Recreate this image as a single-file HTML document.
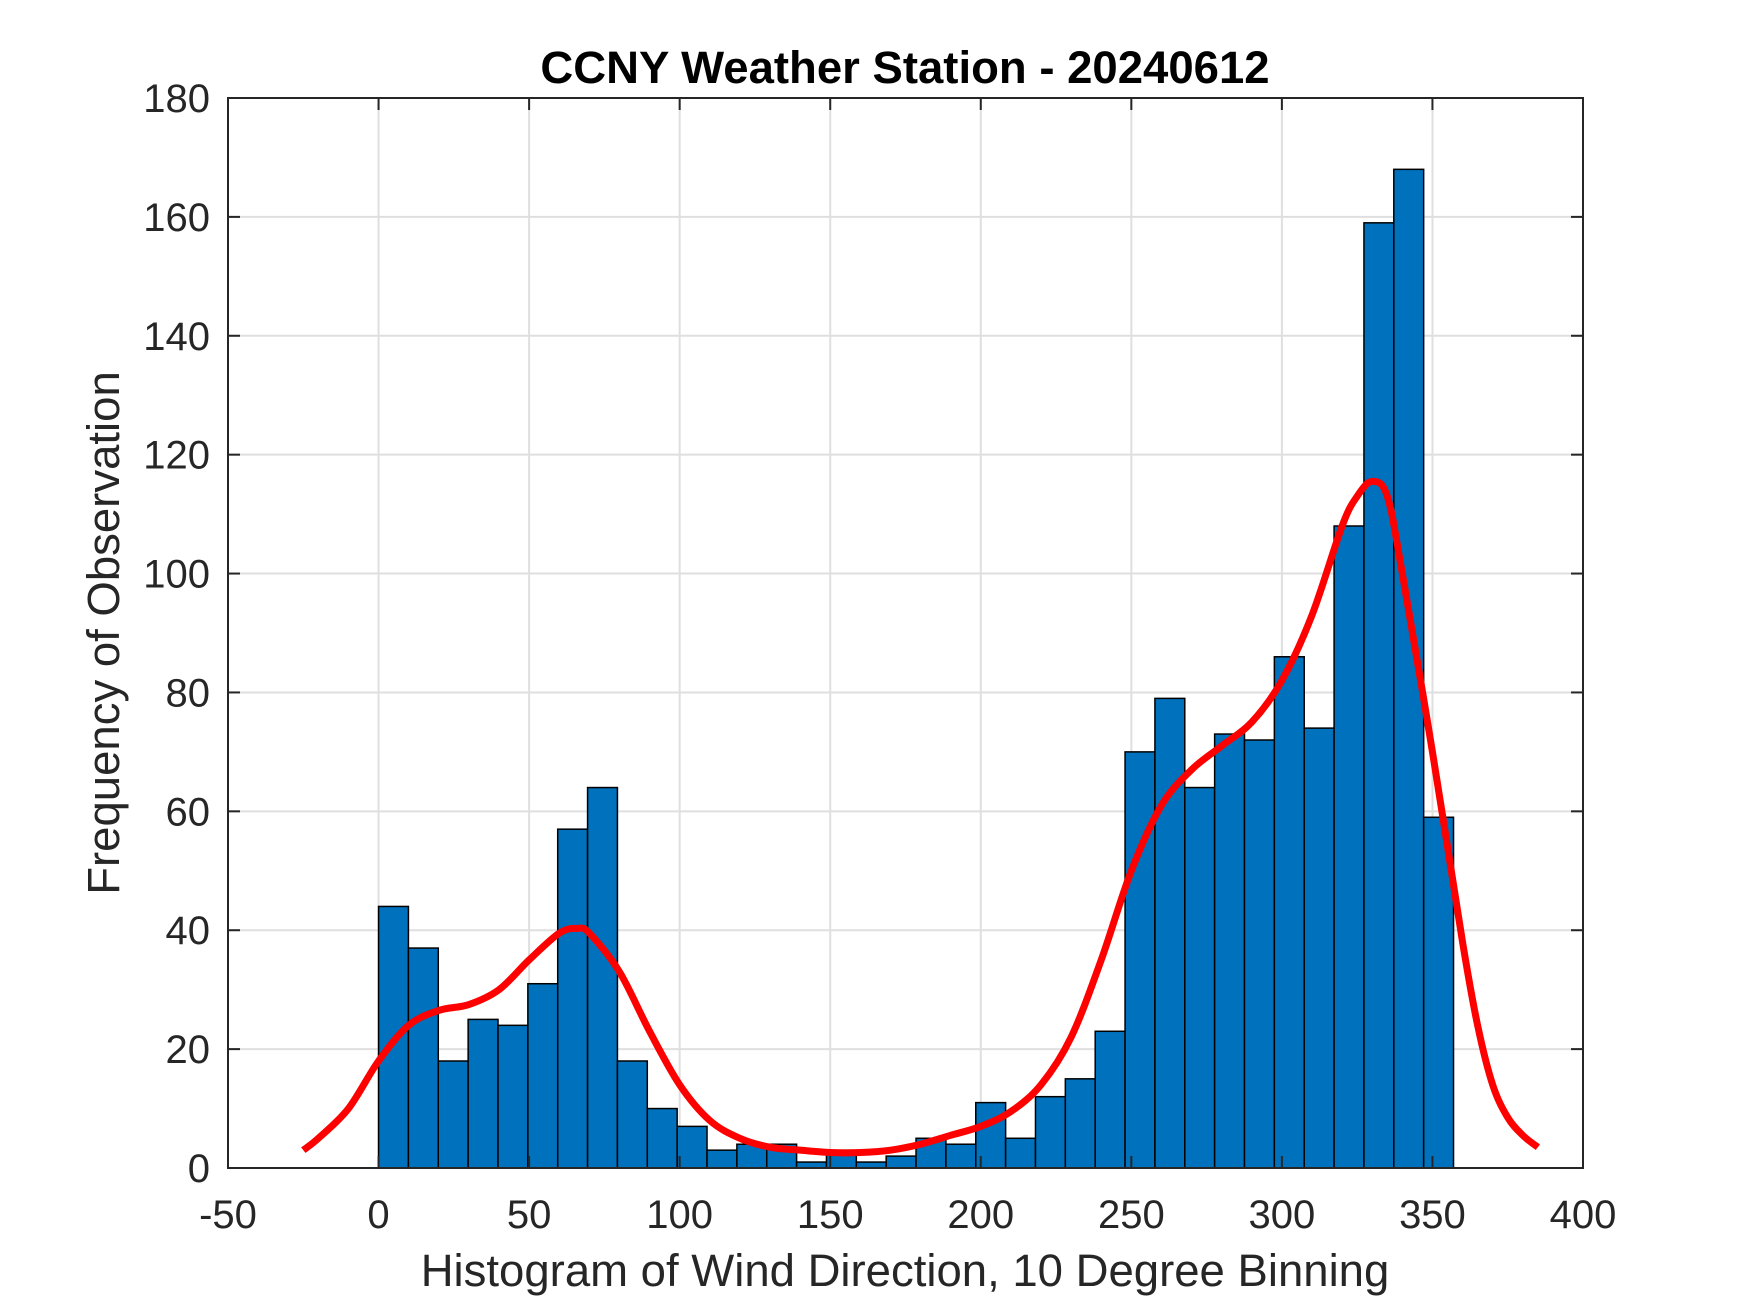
<!DOCTYPE html>
<html><head><meta charset="utf-8"><style>
html,body{margin:0;padding:0;background:#fff;}
svg{display:block;font-family:"Liberation Sans",Arial,sans-serif;}
</style></head><body>
<svg id="chart" width="1750" height="1313" viewBox="0 0 1750 1313">
<rect width="1750" height="1313" fill="#fff"/>
<text x="905" y="83" text-anchor="middle" font-size="45.5" font-weight="bold" fill="#000">CCNY Weather Station - 20240612</text>
<g id="grid"></g>
<g id="bars"></g>
<g id="curve"></g>
<rect x="228" y="98" width="1355" height="1070" fill="none" stroke="#262626" stroke-width="2"/>
<g id="ticks"></g>
<text x="905" y="1286" text-anchor="middle" font-size="45.5" fill="#262626">Histogram of Wind Direction, 10 Degree Binning</text>
<text transform="translate(119,633) rotate(-90)" text-anchor="middle" font-size="45.5" fill="#262626">Frequency of Observation</text>
</svg>
<script>
const counts = [44,37,18,25,24,31,57,64,18,10,7,3,4,4,1,3,1,2,5,4,11,5,12,15,23,70,79,64,73,72,86,74,108,159,168,59];
const binStart = 0;
const binEnd = 357;
const curveX = [-25,-20,-10,0,10,20,30,40,50,60,66,70,80,90,100,110,120,130,140,150,160,170,180,190,200,210,220,230,240,250,260,270,280,290,300,310,320,325,330,335,340,350,360,365,370,375,380,385];
const curveY = [3,5,10,18,24,26.5,27.5,30,35,39.5,40.3,39.5,33,23,14,8,5,3.5,3,2.6,2.6,3,4,5.5,7,9.5,14,22,35,50,61,67,71,75,82,93,108,113,115.5,113,100,70,38,24,14,8.5,5.5,3.5];
const xTicks = [-50,0,50,100,150,200,250,300,350,400];
const yTicks = [0,20,40,60,80,100,120,140,160,180];

const L=228,R=1583,T=98,B=1168;
const xs=v=>L+(v+50)/450*(R-L);
const ys=v=>B-v/180*(B-T);
const NS='http://www.w3.org/2000/svg';
function mk(tag,attrs,parent){const e=document.createElementNS(NS,tag);for(const k in attrs)e.setAttribute(k,attrs[k]);parent.appendChild(e);return e;}
const grid=document.getElementById('grid'),bars=document.getElementById('bars'),curve=document.getElementById('curve'),ticks=document.getElementById('ticks');
xTicks.forEach(t=>{
  const l=mk('line',{x1:xs(t),x2:xs(t),y1:T,y2:B,stroke:'#dfdfdf','stroke-width':2},grid);
  
  
  const a=mk('line',{x1:xs(t),x2:xs(t),y1:B,y2:B-12,stroke:'#262626','stroke-width':2},ticks);
  
  
  const b=mk('line',{x1:xs(t),x2:xs(t),y1:T,y2:T+12,stroke:'#262626','stroke-width':2},ticks);
  
  
  const tx=mk('text',{x:xs(t),y:1228,'text-anchor':'middle','font-size':40,fill:'#262626'},ticks);
  tx.textContent=t;
  
  
});
yTicks.forEach(t=>{
  const l=mk('line',{x1:L,x2:R,y1:ys(t),y2:ys(t),stroke:'#dfdfdf','stroke-width':2},grid);
  
  
  const a=mk('line',{x1:L,x2:L+12,y1:ys(t),y2:ys(t),stroke:'#262626','stroke-width':2},ticks);
  
  
  const b=mk('line',{x1:R,x2:R-12,y1:ys(t),y2:ys(t),stroke:'#262626','stroke-width':2},ticks);
  
  
  const tx=mk('text',{x:L-18,y:ys(t)+14,'text-anchor':'end','font-size':40,fill:'#262626'},ticks);
  tx.textContent=t;
  
  
});
const bw=(binEnd-binStart)/counts.length;
counts.forEach((c,i)=>{
  const x0=xs(binStart+i*bw),x1=xs(binStart+(i+1)*bw);
  const r=mk('rect',{x:x0,y:ys(c),width:x1-x0,height:B-ys(c),fill:'#0072bd',stroke:'#000','stroke-width':1.5},bars);
  
  
});
// Catmull-Rom smooth path
const P=curveX.map((x,i)=>[xs(x),ys(curveY[i])]);
let d='M'+P[0][0]+','+P[0][1];
for(let i=0;i<P.length-1;i++){
  const p0=P[i-1]||P[i],p1=P[i],p2=P[i+1],p3=P[i+2]||P[i+1];
  const c1=[p1[0]+(p2[0]-p0[0])/6,p1[1]+(p2[1]-p0[1])/6];
  const c2=[p2[0]-(p3[0]-p1[0])/6,p2[1]-(p3[1]-p1[1])/6];
  d+=' C'+c1[0]+','+c1[1]+' '+c2[0]+','+c2[1]+' '+p2[0]+','+p2[1];
}
const pl=mk('path',{d:d,fill:'none',stroke:'#ff0000','stroke-width':7,'stroke-linejoin':'round'},curve);


</script>
</body></html>
